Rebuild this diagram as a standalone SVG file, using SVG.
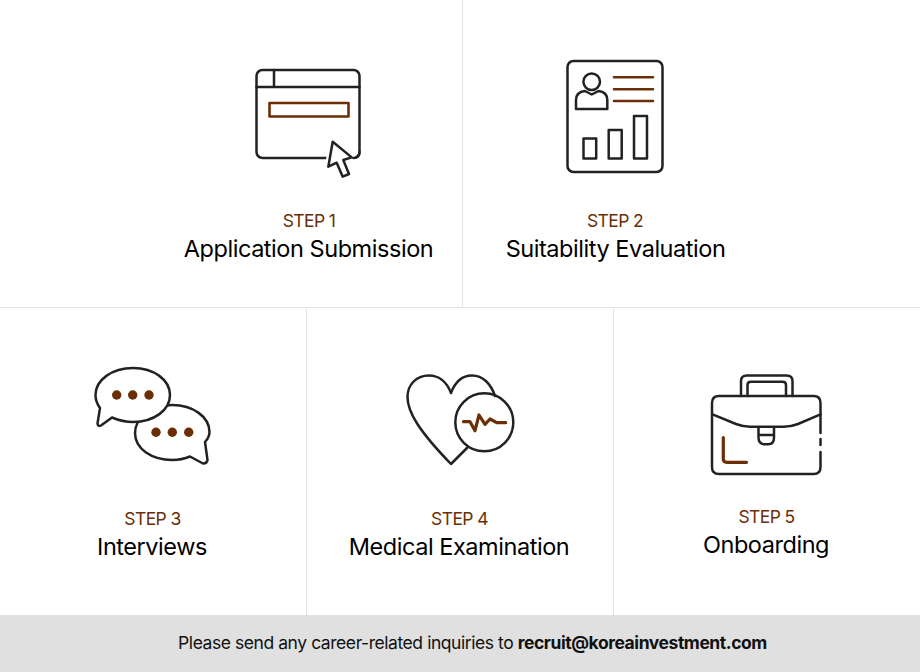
<svg xmlns="http://www.w3.org/2000/svg" width="920" height="672" viewBox="0 0 920 672">
<style>
text{font-family:Inter,"Noto Sans","Liberation Sans",sans-serif;text-anchor:middle}
.s{font-size:17.500px;fill:#6b2e06;letter-spacing:-.6px}
.t{font-size:23.500px;fill:#000;letter-spacing:-.45px}
.k{fill:none;stroke:#222;stroke-width:2.500;stroke-linejoin:round;stroke-linecap:round}
.b{fill:none;stroke:#6b2e06;stroke-width:2.600;stroke-linejoin:round;stroke-linecap:round}
.h{stroke-width:3.200}
.d{fill:#6b2e06}
.g{stroke:#e4e4e4;stroke-width:1;fill:none}
.f{font-size:17.500px;fill:#111;letter-spacing:-.44px}
</style>
<rect width="920" height="672" fill="#fff"/>
<g id="connectors"><path class="g" d="M462.500 0V307M0 307.500H920M306.500 308V615M613.500 308V615"/></g>
<g id="step1">
<rect class="k" x="256.500" y="70" width="103" height="88" rx="6"/>
<path class="k" d="M256.500 87H359.500M274 70V87"/>
<rect class="b" x="269.500" y="103" width="79" height="13.500"/>
<path d="M332.700 141.700L351.700 157.400L343.300 160L349 174L342.700 176.700L336.700 162.700L328.300 166.700Z" fill="#fff" stroke="#fff" stroke-width="7" stroke-linejoin="round"/>
<path class="k" style="fill:#fff" d="M332.700 141.700L351.700 157.400L343.300 160L349 174L342.700 176.700L336.700 162.700L328.300 166.700Z"/>
<path class="k" d="M354 158H353.500Q359.500 158 359.500 152"/>
<text class="s" x="309" y="226.500">STEP 1</text><text class="t" x="308.500" y="257">Application Submission</text>
</g>
<g id="step2">
<rect class="k" x="567.500" y="61" width="95" height="111" rx="6"/>
<circle class="k" cx="591.700" cy="81.700" r="8.300"/>
<path class="k" d="M576 109V100Q576 92 585 91L591.700 94.500L598.500 91Q607.300 92 607.300 100V109Z"/>
<path class="b" d="M614 77.300H653M614 89.300H653M614 101H653"/>
<rect class="k" x="583.500" y="138.500" width="12.700" height="20"/>
<rect class="k" x="608.700" y="130" width="13" height="28.500"/>
<rect class="k" x="634" y="116" width="13" height="42.500"/>
<text class="s" x="615" y="226.500">STEP 2</text><text class="t" x="615.500" y="257">Suitability Evaluation</text>
</g>
<g id="step3">
<path class="k" d="M172.300 405C152 405 135 418 135 433C135 449 152 460 172.300 460C178 460 184 459 190 456.500L203 463.500Q207 463.500 207.500 460L205 442Q209.500 437 209.500 432C209.500 417 193 405 172.300 405Z"/>
<path class="k" style="fill:#fff" d="M133 368C112 368 95.500 380 95.500 395C95.500 400 97 404 100 408L97.500 423.500Q98 427 101 425.500L112 417.500C118 420 125 422 133 422C154 422 170 410 170 395C170 380 154 368 133 368Z"/>
<circle class="d" cx="116.700" cy="395" r="4.700"/><circle class="d" cx="132.700" cy="395" r="4.700"/><circle class="d" cx="149" cy="395" r="4.700"/>
<circle class="d" cx="156" cy="432.300" r="4.700"/><circle class="d" cx="172.300" cy="432.300" r="4.700"/><circle class="d" cx="188.700" cy="432.300" r="4.700"/>
<text class="s" x="152.500" y="524.500">STEP 3</text><text class="t" x="152" y="555">Interviews</text>
</g>
<g id="step4">
<path class="k" d="M495 396C491 384 483 375.500 472 375.500C463 375.500 455.500 381 451 393C446.500 381 438 375.500 429 375.500C416 375.500 407.500 385 407.500 397C407.500 412 419 431 451 464L467 448"/>
<circle class="k" cx="484.300" cy="422.300" r="29"/>
<path class="b h" d="M463.500 421.700H470L475 430.700L479 415L485 424.300L490 419L496.700 422.700H505.700"/>
<text class="s" x="459.500" y="524.500">STEP 4</text><text class="t" x="459" y="555">Medical Examination</text>
</g>
<g id="step5">
<path class="k" d="M741 396V381Q741 375.500 747 375.500H786.500Q792.500 375.500 792.500 381V396M747.500 396V385Q747.500 381.800 751 381.800H782.500Q786 381.800 786 385V396"/>
<path class="k" d="M820.500 433V403Q820.500 396 813.500 396H719Q712 396 712 403V467Q712 474 719 474H813.500Q820.500 474 820.500 467V452M820.500 439V445"/>
<path class="k" d="M712.500 414.300L736 424Q743 426.700 750 426.700H784Q791 426.700 798 424L820.500 414.300"/>
<path class="k" d="M758.500 428V437.500Q758.500 444.300 765 444.300H768Q774 444.300 774 437.500V428M758.500 435H774"/>
<path class="b h" d="M723.300 437.700V459Q723.300 462.300 727 462.300H746.500"/>
<text class="s" x="766.500" y="522.500">STEP 5</text><text class="t" x="766" y="553">Onboarding</text>
</g>
<g id="footer">
<rect x="0" y="615" width="920" height="57" fill="#e0e0e0"/>
<text class="f" x="472.500" y="648.500">Please send any career-related inquiries to <tspan font-weight="700">recruit@koreainvestment.com</tspan></text>
</g>
</svg>
